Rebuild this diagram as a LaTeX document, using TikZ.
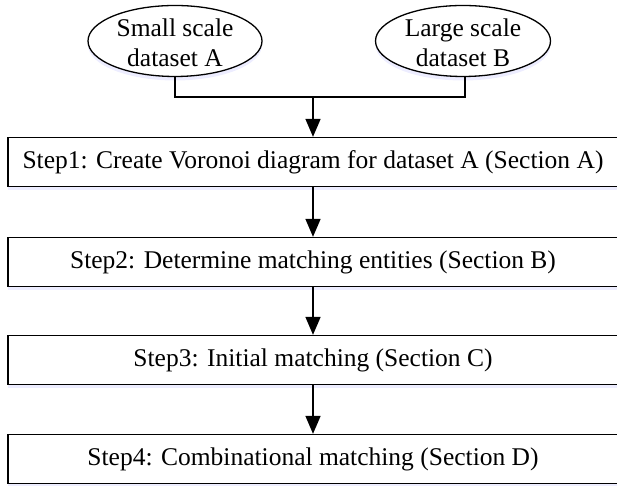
\documentclass[tikz,border=0pt]{standalone}
\usepackage{fontspec}
\setmainfont{Liberation Serif}
\usetikzlibrary{arrows.meta,shapes.geometric,shadows}
\begin{document}
\begin{tikzpicture}[x=1pt,y=1pt,
  shade/.style={drop shadow={shadow xshift=0pt,shadow yshift=-4pt,opacity=0.18,fill=blue!40}},
  stepbox/.style={draw, line width=1.3pt, fill=white, minimum width=610pt, minimum height=49pt,
    inner sep=0pt, font=\fontsize{25.5}{30}\selectfont, shade},
  dataset/.style={ellipse, draw, line width=1.3pt, fill=white, inner sep=0pt, shade},
  dtext/.style={align=center, inner sep=0pt, font=\fontsize{25.5}{30}\selectfont},
  link/.style={line width=1.6pt},
  arr/.style={line width=1.6pt, -{Triangle[length=18pt,width=15pt]}}]
\useasboundingbox (0,0) rectangle (617,486);
\clip (0,0) rectangle (617,486);
\node[dataset, minimum width=174pt, minimum height=71pt] (A) at (175,445) {};
\node[dtext] (At) at ([yshift=-2pt]A.center) {Small scale\\dataset A};
\node[dataset, minimum width=175pt, minimum height=71pt] (B) at (463,445) {};
\node[dtext] (Bt) at ([yshift=-2pt]B.center) {Large scale\\dataset B};
\node[stepbox] (s1) at (313,324) {Step1: Create Voronoi diagram for dataset A (Section A)};
\node[stepbox] (s2) at (313,224) {Step2: Determine matching entities (Section B)};
\node[stepbox] (s3) at (313,126) {Step3: Initial matching (Section C)};
\node[stepbox] (s4) at (313,27) {Step4: Combinational matching (Section D)};
\coordinate (ja) at (175,389);
\coordinate (jb) at (465,389);
\coordinate (jm) at (313,389);
\draw[link] (A.south -| ja) -- (ja) -- (jb) -- (B.south -| jb);
\draw[arr] (jm) -- (s1.north);
\draw[arr] (s1.south) -- (s2.north);
\draw[arr] (s2.south) -- (s3.north);
\draw[arr] (s3.south) -- (s4.north);
\end{tikzpicture}
\end{document}
